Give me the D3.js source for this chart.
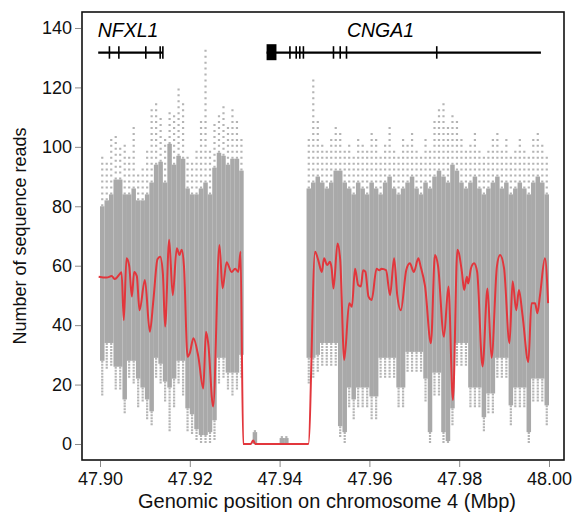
<!DOCTYPE html>
<html>
<head>
<meta charset="utf-8">
<script src="https://cdn.jsdelivr.net/npm/d3@7"></script>
<style>
  body { margin: 0; background: #fff; }
  text { font-family: Arial, "Liberation Sans", sans-serif; }
</style>
</head>
<body>
<div id="chart"></div>
<script>
// read depth, binned every 0.001 Mbp from 47.900 (null = no reads)
let binStart = 47.900
let binSize = 0.001
let coreLow = [28,34,34,26,26,15,28,28,22,19,15,11,29,27,21,19,22,28,28,12,10,5,3,3,4,8,29,29,24,24,24,30,
  null,null,0,null,null,null,null,null,0,0,null,null,null,null,
  29,29,30,34,34,34,34,6,4,19,15,19,19,19,16,16,29,29,29,29,19,19,31,31,31,31,22,4,24,24,4,1,12,34,34,34,19,19,19,9,17,17,29,29,29,13,19,19,19,4,22,22,22,13]
let coreHigh = [80,82,84,89,89,84,84,86,82,82,84,88,94,95,88,101,94,97,96,86,84,84,86,88,84,93,98,97,94,96,96,92,
  null,null,4,null,null,null,null,null,2,2,null,null,null,null,
  86,88,90,88,86,88,92,92,88,86,84,88,86,84,88,86,84,88,90,86,84,86,88,90,86,84,88,86,90,92,90,88,94,92,88,86,88,90,86,84,86,88,90,86,88,84,86,88,86,84,88,90,88,84]
let tailLow = [16,25,26,18,18,10,22,20,12,14,8,6,22,20,14,4,12,20,16,4,3,1,0,0,0,1,20,22,18,16,18,22,
  null,null,0,null,null,null,null,null,0,0,null,null,null,null,
  20,22,24,26,26,26,26,2,0,12,8,12,12,12,8,8,22,22,22,22,12,12,24,24,24,24,14,0,16,16,0,0,6,26,26,26,12,12,12,4,10,10,22,22,22,6,12,12,12,0,14,14,14,6]
let tailHigh = [98,96,104,104,100,101,98,108,92,94,100,114,115,110,104,113,112,120,116,98,96,100,110,134,100,108,112,115,108,114,110,104,
  null,null,5,null,null,null,null,null,3,3,null,null,null,null,
  104,124,110,102,100,104,108,106,100,102,98,104,102,100,106,104,98,102,108,100,98,104,102,106,100,98,104,100,110,114,116,108,112,110,104,100,102,106,100,98,100,104,106,100,104,98,100,104,100,98,104,106,102,98]

// smoothed mean (red line)
let trendPos = [47.8997,47.9015,47.9026,47.9033,47.9045,47.9048,47.9053,47.9059,47.9065,47.9071,47.9076,47.9082,47.9088,47.9100,
  47.9111,47.9119,47.9128,47.9134,47.9140,47.9145,47.9154,47.9162,47.9171,47.9177,47.9182,47.9187,47.9195,47.9200,47.9208,
  47.9219,47.9230,47.9236,47.9241,47.9252,47.9266,47.9273,47.9282,47.9293,47.9301,47.9308,47.9313,47.9319,47.9336,47.9341,
  47.9346,47.9464,47.9479,47.9486,47.9494,47.9499,47.9506,47.9512,47.9516,47.9520,47.9529,47.9535,47.9544,47.9555,47.9561,
  47.9568,47.9575,47.9581,47.9586,47.9591,47.9598,47.9605,47.9616,47.9622,47.9627,47.9637,47.9646,47.9655,47.9662,47.9670,
  47.9682,47.9690,47.9699,47.9709,47.9714,47.9724,47.9737,47.9746,47.9753,47.9766,47.9776,47.9786,47.9796,47.9806,47.9811,
  47.9817,47.9820,47.9826,47.9833,47.9840,47.9852,47.9863,47.9872,47.9884,47.9891,47.9900,47.9912,47.9919,47.9927,47.9933,
  47.9941,47.9954,47.9961,47.9969,47.9974,47.9980,47.9991,47.9998]
let trendVal = [56.3,56,56.5,55.5,57.4,57.8,41.7,62.5,60,49.6,57.9,56.5,45,55.2,
  37.8,48.6,62.2,63,57.4,39.5,68.7,50.1,65.9,63.6,65.4,59.8,29.4,30.6,35.6,
  29.4,18.7,37.8,33.9,12.6,67,52.4,61.2,57.9,59,57.9,64.7,0,0,1.2,
  0,0,64.7,61.9,57.9,62.5,60.2,61.3,59,52.3,67.5,61.9,28.3,47.4,46.2,
  59,53.5,53,58.5,58,49.6,48.5,59,58.5,59,58.5,50.1,62.5,50.1,45,
  58.5,60.8,57.9,62.5,59.8,53,33.9,63.6,59.8,36.1,53,14.8,65.4,57.9,51.8,
  56.3,54,59,60.8,57.9,26.1,52.3,29,59.8,63.6,59,33.9,54.8,45,51.8,
  43.4,27.6,47.4,47.4,44,50.1,62.5,47.4]

// gene models
let geneNames = ['NFXL1', 'CNGA1']
let geneStart = [47.8996, 47.9371]
let geneEnd = [47.9140, 47.9982]
let geneLabelPos = [47.8995, 47.9550]
let exonPos = [47.9021, 47.9042, 47.9102, 47.9134, 47.9140, 47.9423, 47.9437, 47.9445, 47.9453, 47.9520, 47.9535, 47.9549, 47.9750]
let utrStart = 47.9371, utrEnd = 47.9393

let xTicks = [47.90, 47.92, 47.94, 47.96, 47.98, 48.00]
let yTicks = [0, 20, 40, 60, 80, 100, 120, 140]

let width = 572, height = 513
let plot = {left: 82, right: 564, top: 12, bottom: 460}

let svg = d3.select('#chart').append('svg')
  .attr('width', width)
  .attr('height', height)

let x = d3.scaleLinear().domain([47.89599, 48.00334]).range([plot.left, plot.right])
let y = d3.scaleLinear().domain([-5.385, 145.38]).range([plot.bottom, plot.top])

let bins = coreLow.map(function (d, i) {
  return {x0: binStart + i * binSize, x1: binStart + (i + 1) * binSize,
    lo: d, hi: coreHigh[i], tlo: tailLow[i], thi: tailHigh[i]}
}).filter(function (d) { return d.lo !== null })

let grey = '#a9a9a9'
let step = y(0) - y(1)   // one read = one row of dots
let g = svg.append('g')
let mid = function (d) { return (x(d.x0) + x(d.x1)) / 2 }

// sparse reads above / below the dense band
g.selectAll('.tail-hi').data(bins).join('line')
  .attr('x1', mid).attr('x2', mid)
  .attr('y1', function (d) { return y(d.hi) })
  .attr('y2', function (d) { return y(d.thi) })
  .attr('stroke', '#b4b4b4').attr('stroke-width', 2.2)
  .attr('stroke-dasharray', '2,' + (step - 2 + step))
g.selectAll('.tail-lo').data(bins).join('line')
  .attr('x1', mid).attr('x2', mid)
  .attr('y1', function (d) { return y(d.lo) })
  .attr('y2', function (d) { return y(d.tlo) })
  .attr('stroke', '#b4b4b4').attr('stroke-width', 2.2)
  .attr('stroke-dasharray', '2,' + (step - 2))

// dense band
g.selectAll('.core').data(bins).join('rect')
  .attr('x', function (d) { return x(d.x0) })
  .attr('width', function (d) { return x(d.x1) - x(d.x0) })
  .attr('y', function (d) { return y(d.hi) })
  .attr('height', function (d) { return y(d.lo) - y(d.hi) })
  .attr('fill', grey)

// red mean line
let line = d3.line()
  .x(function (d, i) { return x(trendPos[i]) })
  .y(function (d) { return y(d) })
  .curve(d3.curveMonotoneX)
svg.append('path').datum(trendVal)
  .attr('d', line)
  .attr('fill', 'none')
  .attr('stroke', '#e2363c')
  .attr('stroke-width', 2)

// genes
let geneY = 52.7
let gg = svg.append('g')
gg.selectAll('.gline').data(geneNames).join('line')
  .attr('x1', function (d, i) { return x(geneStart[i]) })
  .attr('x2', function (d, i) { return x(geneEnd[i]) })
  .attr('y1', geneY).attr('y2', geneY)
  .attr('stroke', '#000').attr('stroke-width', 2.2)
gg.selectAll('.exon').data(exonPos).join('line')
  .attr('x1', function (d) { return x(d) })
  .attr('x2', function (d) { return x(d) })
  .attr('y1', geneY - 6.5).attr('y2', geneY + 6)
  .attr('stroke', '#000').attr('stroke-width', 1.6)
gg.append('rect')
  .attr('x', x(utrStart)).attr('width', x(utrEnd) - x(utrStart))
  .attr('y', geneY - 8.5).attr('height', 16)
  .attr('fill', '#000')
gg.selectAll('.gname').data(geneNames).join('text')
  .attr('x', function (d, i) { return x(geneLabelPos[i]) })
  .attr('y', 36.5)
  .attr('font-size', 19.5)
  .attr('font-style', 'italic')
  .text(function (d) { return d })

// frame
svg.append('rect')
  .attr('x', plot.left).attr('y', plot.top)
  .attr('width', plot.right - plot.left).attr('height', plot.bottom - plot.top)
  .attr('fill', 'none').attr('stroke', '#111').attr('stroke-width', 1.6)

// axes
let xAxis = svg.append('g').attr('transform', 'translate(0,' + (plot.bottom + 1) + ')')
  .call(d3.axisBottom(x).tickValues(xTicks).tickFormat(d3.format('.2f')).tickSize(6).tickPadding(5))
let yAxis = svg.append('g').attr('transform', 'translate(' + (plot.left - 1) + ',0)')
  .call(d3.axisLeft(y).tickValues(yTicks).tickSize(6).tickPadding(3))
;[xAxis, yAxis].forEach(function (a) {
  a.select('.domain').remove()
  a.selectAll('.tick line').attr('stroke', '#8a8a8a')
  a.selectAll('.tick text').attr('font-size', 18).attr('fill', '#111').attr('font-family', 'Arial, "Liberation Sans", sans-serif')
})

svg.append('text')
  .attr('x', (plot.left + plot.right) / 2 + 4)
  .attr('y', 508)
  .attr('text-anchor', 'middle')
  .attr('font-size', 20)
  .attr('fill', '#111')
  .text('Genomic position on chromosome 4 (Mbp)')
svg.append('text')
  .attr('transform', 'translate(26,' + ((plot.top + plot.bottom) / 2) + ') rotate(-90)')
  .attr('text-anchor', 'middle')
  .attr('font-size', 18)
  .attr('fill', '#111')
  .text('Number of sequence reads')
</script>
</body>
</html>
